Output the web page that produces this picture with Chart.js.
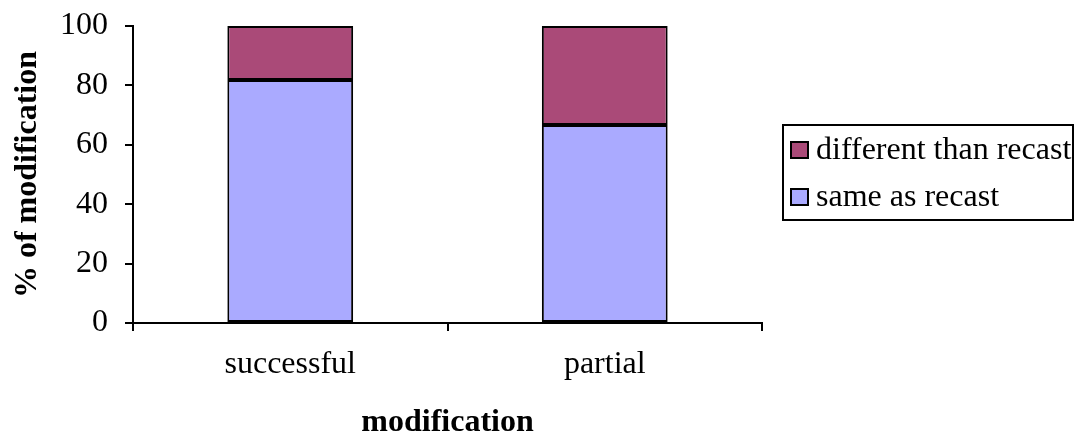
<!DOCTYPE html>
<html>
<head>
<meta charset="utf-8">
<script src="https://cdn.jsdelivr.net/npm/chart.js@4"></script>
<style>
  html, body { margin: 0; padding: 0; background: #fff; }
  #wrap { width: 1076px; height: 436px; }
</style>
</head>
<body>
<div id="wrap"><canvas id="myChart" width="1076" height="436"></canvas></div>
<script>
// data
const categories = ['successful', 'partial'];
const sameAsRecast = [81.8, 66.7];
const differentThanRecast = [18.2, 33.3];
const yTicks = [0, 20, 40, 60, 80, 100];

const serif = '"Liberation Serif", "Times New Roman", serif';

// boxed legend on the right, drawn from the datasets
const boxLegend = {
  id: 'boxLegend',
  afterDraw(chart) {
    const c = chart.ctx;
    const sets = chart.data.datasets.slice().reverse();
    c.save();
    c.strokeStyle = '#000';
    c.lineWidth = 2;
    c.strokeRect(783, 125, 290, 95);
    c.font = '32px ' + serif;
    c.textBaseline = 'middle';
    c.fillStyle = '#000';
    sets.forEach(function(ds, i) {
      let y = 150 + i * 47;
      c.fillStyle = ds.backgroundColor;
      c.fillRect(791, y - 8, 17, 16);
      c.strokeRect(791, y - 8, 17, 16);
      c.fillStyle = '#000';
      c.fillText(ds.label, 816, y + 1);
    });
    c.restore();
  }
};

const ctx = document.getElementById('myChart');
const chart = new Chart(ctx, {
  type: 'bar',
  data: {
    labels: categories,
    datasets: [{
      label: 'same as recast',
      data: sameAsRecast,
      backgroundColor: '#AAAAFF',
      borderColor: '#000',
      borderWidth: 2,
      borderSkipped: false,
      barPercentage: 0.4,
      categoryPercentage: 1
    }, {
      label: 'different than recast',
      data: differentThanRecast,
      backgroundColor: '#AA4A78',
      borderColor: '#000',
      borderWidth: 2,
      borderSkipped: false,
      barPercentage: 0.4,
      categoryPercentage: 1
    }]
  },
  options: {
    responsive: false,
    animation: false,
    layout: { padding: { top: 26, right: 314, bottom: 0, left: 0 } },
    plugins: {
      legend: { display: false },
      tooltip: { enabled: false }
    },
    scales: {
      x: {
        stacked: true,
        grid: { offset: true, drawOnChartArea: false, drawTicks: true, tickLength: 8, color: '#000', lineWidth: 2 },
        border: { color: '#000', width: 2 },
        ticks: { color: '#000', padding: 14, font: { family: serif, size: 32 } },
        title: {
          display: true, text: 'modification', color: '#000',
          padding: { top: 0, bottom: 0 },
          font: { family: serif, size: 32, weight: 'bold', lineHeight: 0.8 }
        },
        afterFit(scale) { scale.height = 113; }
      },
      y: {
        stacked: true,
        min: 0,
        max: 100,
        afterBuildTicks(scale) { scale.ticks = yTicks.map(v => ({ value: v })); },
        grid: { drawOnChartArea: false, drawTicks: true, tickLength: 8, color: '#000', lineWidth: 2 },
        border: { color: '#000', width: 2 },
        ticks: { color: '#000', padding: 17, font: { family: serif, size: 32 } },
        title: {
          display: true, text: '% of modification', color: '#000',
          padding: { top: 9, bottom: 0 },
          font: { family: serif, size: 32, weight: 'bold', lineHeight: 1.2 }
        },
        afterFit(scale) {
          scale.width = 133;
          scale.paddingTop = 0;
          scale.paddingBottom = 0;
        }
      }
    }
  },
  plugins: [boxLegend]
});
</script>
</body>
</html>
